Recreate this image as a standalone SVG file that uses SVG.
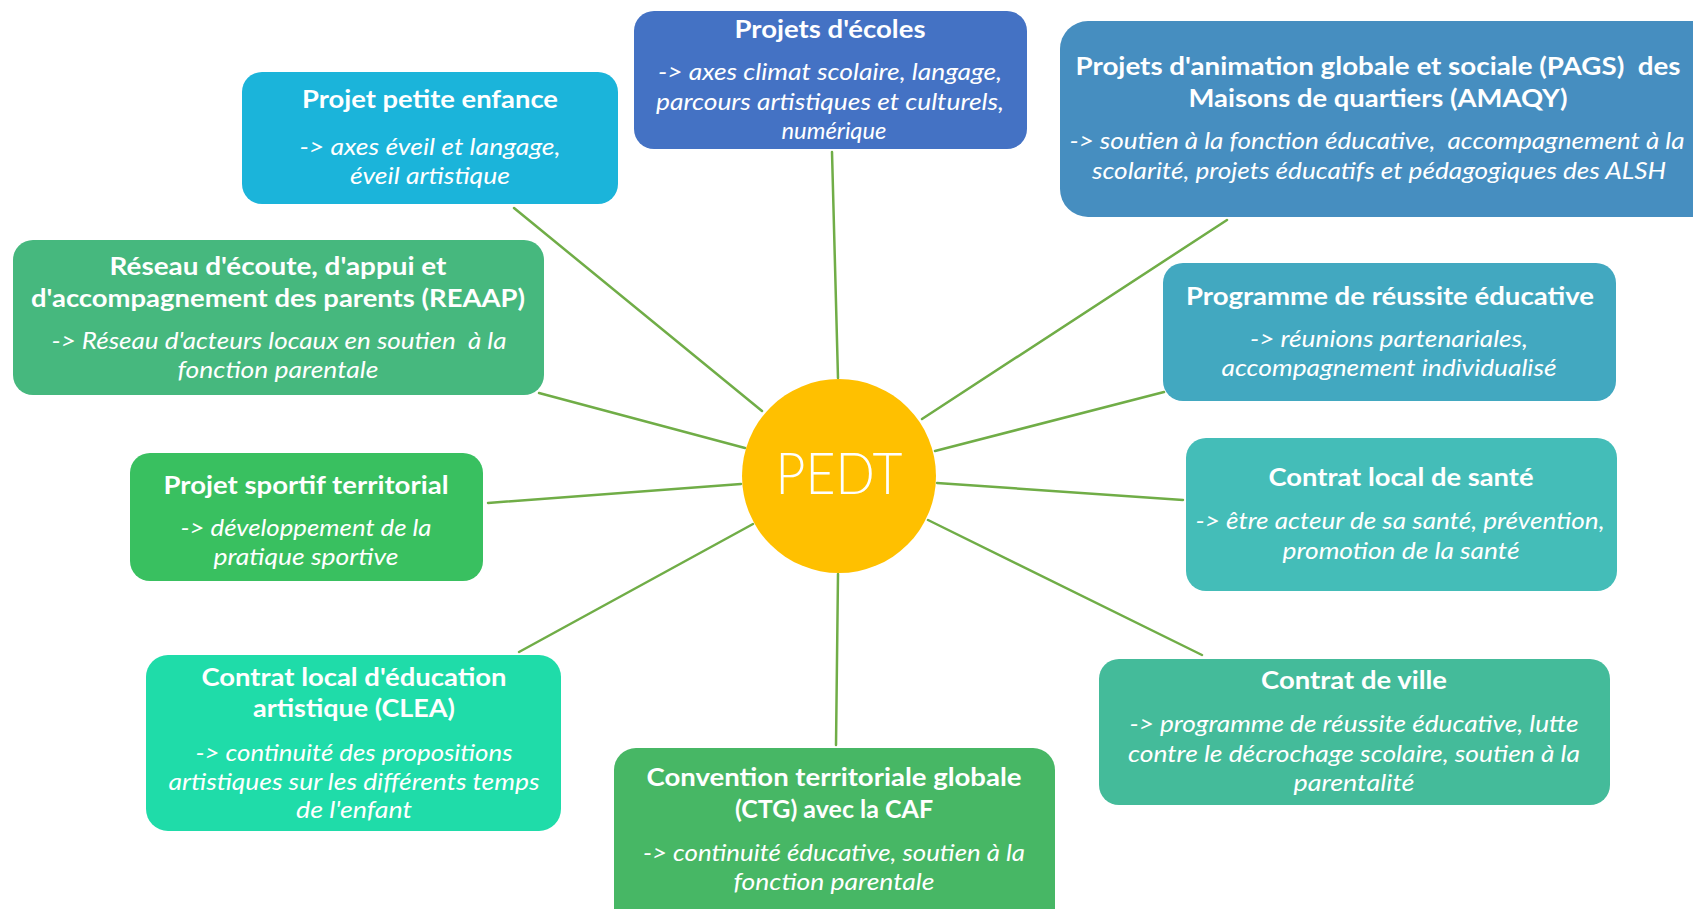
<svg xmlns="http://www.w3.org/2000/svg" width="1693" height="909" viewBox="0 0 1693 909">
<defs>
<style>
.box{stroke:none}
.t{font-family:Lato,"Open Sans","Liberation Sans",sans-serif;font-weight:700;font-size:25px;fill:#fff;text-anchor:middle;white-space:pre}
.i{font-family:Lato,"Open Sans","Liberation Sans",sans-serif;font-style:italic;font-size:23px;fill:#fff;text-anchor:middle;white-space:pre}
.c line{stroke:#70AD47;stroke-width:2.5;stroke-linecap:round}
</style>
</defs>
<rect width="1693" height="909" fill="#fff"/>
<g id="connectors" class="c">
<line x1="514" y1="208" x2="762" y2="411"/>
<line x1="832" y1="152" x2="838" y2="378"/>
<line x1="1227" y1="220" x2="922" y2="419"/>
<line x1="1164" y1="392" x2="935" y2="451"/>
<line x1="1183" y1="500" x2="937" y2="483"/>
<line x1="1202" y1="655" x2="928" y2="520"/>
<line x1="836" y1="745" x2="838" y2="574"/>
<line x1="519" y1="652" x2="753" y2="524"/>
<line x1="488" y1="503" x2="741" y2="484"/>
<line x1="539" y1="393" x2="745" y2="448"/>
</g>
<g id="petite-enfance">
<rect class="box" x="242" y="72" width="376" height="132" rx="20" fill="#1BB4DA"/>
<text class="t" x="430" y="108" textLength="256" lengthAdjust="spacingAndGlyphs">Projet petite enfance</text>
<text class="i" x="430" y="155" textLength="261" lengthAdjust="spacingAndGlyphs">-&gt; axes éveil et langage,</text>
<text class="i" x="430" y="184" textLength="160" lengthAdjust="spacingAndGlyphs">éveil artistique</text>
</g>
<g id="ecoles">
<rect class="box" x="634" y="11" width="393" height="138" rx="20" fill="#4472C4"/>
<text class="t" x="830" y="38" textLength="191" lengthAdjust="spacingAndGlyphs">Projets d'écoles</text>
<text class="i" x="830" y="80" textLength="344" lengthAdjust="spacingAndGlyphs">-&gt; axes climat scolaire, langage,</text>
<text class="i" x="830" y="110" textLength="348" lengthAdjust="spacingAndGlyphs">parcours artistiques et culturels,</text>
<text class="i" x="834" y="139" textLength="105" lengthAdjust="spacingAndGlyphs">numérique</text>
</g>
<g id="pags">
<rect class="box" x="1060" y="21" width="660" height="196" rx="28" fill="#468EC0"/>
<text class="t" x="1378" y="75" textLength="605" lengthAdjust="spacingAndGlyphs">Projets d'animation globale et sociale (PAGS)  des</text>
<text class="t" x="1378" y="107" textLength="379" lengthAdjust="spacingAndGlyphs">Maisons de quartiers (AMAQY)</text>
<text class="i" x="1377" y="149" textLength="615" lengthAdjust="spacingAndGlyphs">-&gt; soutien à la fonction éducative,  accompagnement à la</text>
<text class="i" x="1379" y="179" textLength="574" lengthAdjust="spacingAndGlyphs">scolarité, projets éducatifs et pédagogiques des ALSH</text>
</g>
<g id="reussite">
<rect class="box" x="1163" y="263" width="453" height="138" rx="20" fill="#42A8C0"/>
<text class="t" x="1390" y="305" textLength="408" lengthAdjust="spacingAndGlyphs">Programme de réussite éducative</text>
<text class="i" x="1389" y="347" textLength="278" lengthAdjust="spacingAndGlyphs">-&gt; réunions partenariales,</text>
<text class="i" x="1389" y="376" textLength="335" lengthAdjust="spacingAndGlyphs">accompagnement individualisé</text>
</g>
<g id="sante">
<rect class="box" x="1186" y="438" width="431" height="153" rx="20" fill="#44BDB8"/>
<text class="t" x="1401" y="486" textLength="265" lengthAdjust="spacingAndGlyphs">Contrat local de santé</text>
<text class="i" x="1400" y="529" textLength="409" lengthAdjust="spacingAndGlyphs">-&gt; être acteur de sa santé, prévention,</text>
<text class="i" x="1401" y="559" textLength="237" lengthAdjust="spacingAndGlyphs">promotion de la santé</text>
</g>
<g id="ville">
<rect class="box" x="1099" y="659" width="511" height="146" rx="20" fill="#44BB9A"/>
<text class="t" x="1354" y="689" textLength="186" lengthAdjust="spacingAndGlyphs">Contrat de ville</text>
<text class="i" x="1354" y="732" textLength="449" lengthAdjust="spacingAndGlyphs">-&gt; programme de réussite éducative, lutte</text>
<text class="i" x="1354" y="762" textLength="452" lengthAdjust="spacingAndGlyphs">contre le décrochage scolaire, soutien à la</text>
<text class="i" x="1354" y="791" textLength="121" lengthAdjust="spacingAndGlyphs">parentalité</text>
</g>
<g id="ctg">
<rect class="box" x="614" y="748" width="441" height="190" rx="22" fill="#47B765"/>
<text class="t" x="834" y="786" textLength="375" lengthAdjust="spacingAndGlyphs">Convention territoriale globale</text>
<text class="t" x="834" y="818">(CTG) avec la CAF</text>
<text class="i" x="834" y="861" textLength="382" lengthAdjust="spacingAndGlyphs">-&gt; continuité éducative, soutien à la</text>
<text class="i" x="834" y="890" textLength="201" lengthAdjust="spacingAndGlyphs">fonction parentale</text>
</g>
<g id="clea">
<rect class="box" x="146" y="655" width="415" height="176" rx="22" fill="#1FDCA9"/>
<text class="t" x="354" y="686" textLength="305" lengthAdjust="spacingAndGlyphs">Contrat local d'éducation</text>
<text class="t" x="354" y="717" textLength="202" lengthAdjust="spacingAndGlyphs">artistique (CLEA)</text>
<text class="i" x="354" y="761" textLength="317" lengthAdjust="spacingAndGlyphs">-&gt; continuité des propositions</text>
<text class="i" x="354" y="790" textLength="371" lengthAdjust="spacingAndGlyphs">artistiques sur les différents temps</text>
<text class="i" x="354" y="818" textLength="116" lengthAdjust="spacingAndGlyphs">de l'enfant</text>
</g>
<g id="sportif">
<rect class="box" x="130" y="453" width="353" height="128" rx="20" fill="#39C060"/>
<text class="t" x="306" y="494" textLength="285" lengthAdjust="spacingAndGlyphs">Projet sportif territorial</text>
<text class="i" x="306" y="536" textLength="251" lengthAdjust="spacingAndGlyphs">-&gt; développement de la</text>
<text class="i" x="306" y="565" textLength="185" lengthAdjust="spacingAndGlyphs">pratique sportive</text>
</g>
<g id="reaap">
<rect class="box" x="13" y="240" width="531" height="155" rx="20" fill="#46B87E"/>
<text class="t" x="278" y="275" textLength="337" lengthAdjust="spacingAndGlyphs">Réseau d'écoute, d'appui et</text>
<text class="t" x="278" y="307" textLength="494" lengthAdjust="spacingAndGlyphs">d'accompagnement des parents (REAAP)</text>
<text class="i" x="279" y="349" textLength="455" lengthAdjust="spacingAndGlyphs">-&gt; Réseau d'acteurs locaux en soutien  à la</text>
<text class="i" x="278" y="378" textLength="201" lengthAdjust="spacingAndGlyphs">fonction parentale</text>
</g>
<g id="pedt">
<circle cx="839" cy="476" r="97" fill="#FFC000"/>
<text x="839" y="494" font-family="Lato,'Open Sans','Liberation Sans',sans-serif" font-weight="300" font-size="57" fill="#fff" text-anchor="middle" textLength="127" lengthAdjust="spacingAndGlyphs">PEDT</text>
</g>
</svg>
